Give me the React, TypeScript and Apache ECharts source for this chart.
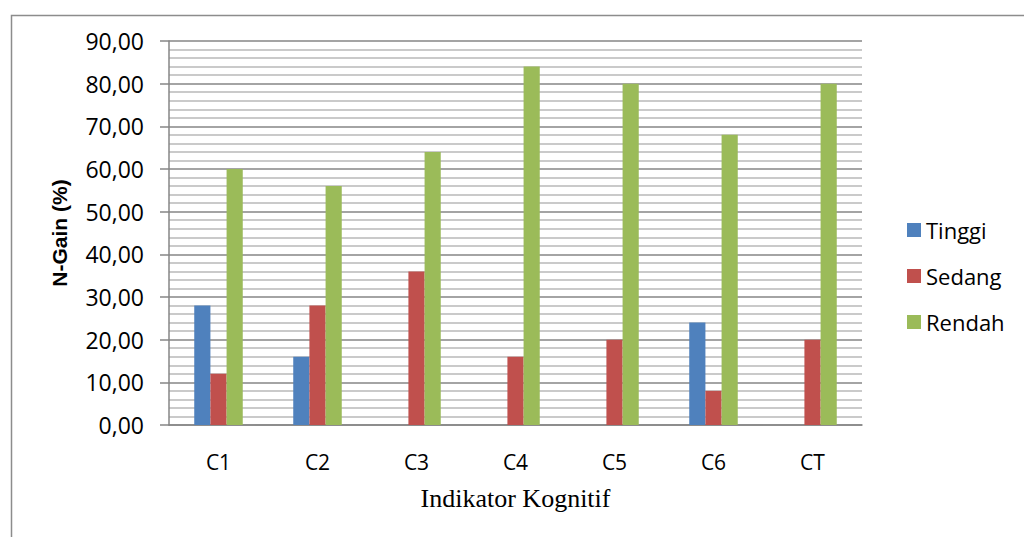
import React, { useEffect, useRef } from "react";
import * as echarts from "echarts";

const categories = ["C1", "C2", "C3", "C4", "C5", "C6", "CT"];
const tinggi = [28, 16, 0, 0, 0, 24, 0];
const sedang = [12, 28, 36, 16, 20, 8, 20];
const rendah = [60, 56, 64, 84, 80, 68, 80];
const seriesNames = ["Tinggi", "Sedang", "Rendah"];
const colors = ["#4f81bd", "#c0504d", "#9bbb59"];

export default function App() {
  const ref = useRef<HTMLDivElement>(null);
  useEffect(() => {
    if (!ref.current) return;
    const chart = echarts.init(ref.current, undefined, { renderer: "svg" });
    const labelFont = "'Open Sans', 'Noto Sans', sans-serif";
    const data = [tinggi, sedang, rendah];
    chart.setOption({
      animation: false,
      backgroundColor: "#ffffff",
      graphic: [
        {
          type: "rect",
          left: 9,
          top: 13,
          shape: { x: 0, y: 0, width: 1100, height: 600 },
          style: { fill: "none", stroke: "#8c8c8c", lineWidth: 1.5 },
          silent: true,
          z: -1,
        },
      ],
      grid: { left: 169, right: 162, top: 41, bottom: 112 },
      legend: {
        orient: "vertical",
        left: 902,
        top: 214,
        itemWidth: 14,
        itemHeight: 14,
        itemGap: 24,
        icon: "rect",
        textStyle: { fontFamily: labelFont, fontSize: 22, color: "#000", padding: [0, 0, 0, 0] },
        data: seriesNames,
      },
      xAxis: {
        type: "category",
        data: categories,
        name: "Indikator Kognitif",
        nameLocation: "middle",
        nameGap: 60,
        nameTextStyle: { fontFamily: "'Liberation Serif', serif", fontSize: 26, color: "#000" },
        axisLine: { show: true, lineStyle: { color: "#868686", width: 1.5 } },
        axisTick: { show: false },
        axisLabel: { fontFamily: labelFont, fontSize: 21, color: "#000", margin: 26 },
      },
      yAxis: {
        type: "value",
        min: 0,
        max: 90,
        interval: 10,
        name: "N-Gain (%)",
        nameLocation: "middle",
        nameGap: 99,
        nameRotate: 90,
        nameTextStyle: { fontFamily: "'Liberation Sans', Arial, sans-serif", fontSize: 21, fontWeight: "bold", color: "#000" },
        axisLine: { show: true, lineStyle: { color: "#868686", width: 1.5 } },
        axisTick: { show: true, length: 9, lineStyle: { color: "#868686", width: 1.5 } },
        axisLabel: {
          fontFamily: labelFont,
          fontSize: 23,
          color: "#000",
          margin: 25,
          formatter: (v: number) => v.toFixed(2).replace(".", ","),
        },
        splitLine: { show: true, lineStyle: { color: "#868686", width: 1.5 } },
        minorTick: { show: false, splitNumber: 5 },
        minorSplitLine: { show: true, lineStyle: { color: "#b8b8b8", width: 1.5 } },
      },
      series: seriesNames.map((name, i) => ({
        name,
        type: "bar",
        data: data[i],
        barGap: "0%",
        barCategoryGap: "51%",
        itemStyle: { color: colors[i] },
      })),
    });
    return () => chart.dispose();
  }, []);
  return <div ref={ref} style={{ position: "fixed", left: 0, top: 0, width: 1024, height: 537 }} />;
}
